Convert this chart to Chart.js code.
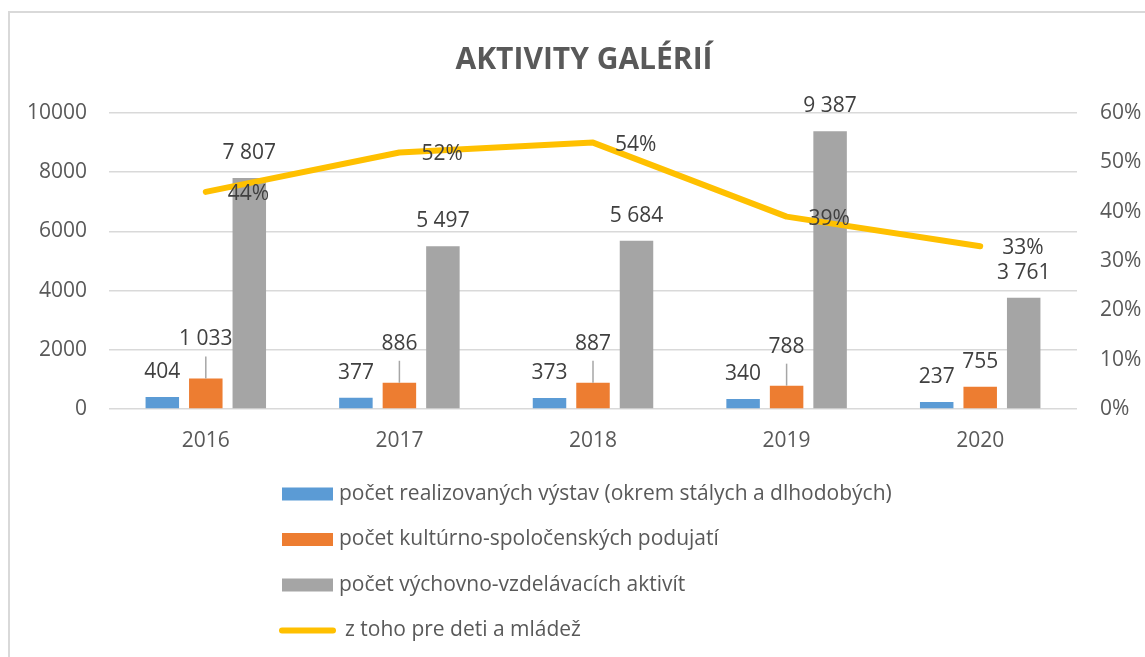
<!DOCTYPE html>
<html>
<head>
<meta charset="utf-8">
<title>Aktivity galérií</title>
<script src="https://cdn.jsdelivr.net/npm/chart.js@4"></script>
<style>
  body { margin: 0; background: #fff; }
  #wrap { position: relative; width: 1145px; height: 657px; }
</style>
</head>
<body>
<div id="wrap"><canvas id="gChart"></canvas></div>
<script>
// data
const years = ["2016", "2017", "2018", "2019", "2020"];
const vystavy = [404, 377, 373, 340, 237];
const podujatia = [1033, 886, 887, 788, 755];
const vzdelavacie = [7807, 5497, 5684, 9387, 3761];
const detiPodiel = [0.44, 0.52, 0.54, 0.39, 0.33];
const leftTicks = [0, 2000, 4000, 6000, 8000, 10000];
const rightTicks = [0, 0.1, 0.2, 0.3, 0.4, 0.5, 0.6];

const chartTitle = "AKTIVITY GALÉRIÍ";
const seriesNames = [
  "počet realizovaných výstav (okrem stálych a dlhodobých)",
  "počet kultúrno-spoločenských podujatí",
  "počet výchovno-vzdelávacích aktivít",
  "z toho pre deti a mládež"
];

const FONT = "'Open Sans', 'Liberation Sans', sans-serif";
const TEXT = "#595959";

function fmtNum(v) {
  return String(v).replace(/\B(?=(\d{3})+(?!\d))/g, " ");
}
function fmtPct(v) {
  return Math.round(v * 100) + "%";
}

// labels on bars / line, like excel data labels
const labelsPlugin = {
  id: "valueLabels",
  afterDatasetsDraw(chart) {
    const ctx = chart.ctx;
    ctx.save();
    ctx.font = "21px " + FONT;
    ctx.fillStyle = "#404040";
    ctx.textBaseline = "middle";
    chart.data.datasets.forEach(function(ds, di) {
      const meta = chart.getDatasetMeta(di);
      meta.data.forEach(function(el, i) {
        const v = ds.data[i];
        if (ds.type === "line") {
          ctx.textAlign = "left";
          ctx.fillText(fmtPct(v), el.x + 22, el.y + 2);
          return;
        }
        ctx.textAlign = "center";
        let off = 25;
        if (di === 1 && i < 4) {
          // moved label with leader line
          off = 39;
          ctx.strokeStyle = "#a6a6a6";
          ctx.lineWidth = 1.5;
          ctx.beginPath();
          ctx.moveTo(el.x, el.y);
          ctx.lineTo(el.x, el.y - off + 17);
          ctx.stroke();
        }
        ctx.fillText(fmtNum(v), el.x, el.y - off);
      });
    });
    ctx.restore();
  }
};

// title + vertical legend under the chart
const textPlugin = {
  id: "titleLegend",
  afterDraw(chart) {
    const ctx = chart.ctx;
    ctx.save();
    ctx.fillStyle = TEXT;
    ctx.textBaseline = "middle";
    ctx.textAlign = "center";
    ctx.font = "bold 30px " + FONT;
    ctx.fillText(chartTitle, 584, 60);

    ctx.font = "21px " + FONT;
    ctx.textAlign = "left";
    chart.data.datasets.forEach(function(ds, i) {
      const cy = 494 + i * 45.5;
      if (ds.type === "line") {
        ctx.strokeStyle = ds.borderColor;
        ctx.lineWidth = 6;
        ctx.lineCap = "round";
        ctx.beginPath();
        ctx.moveTo(282, cy);
        ctx.lineTo(333, cy);
        ctx.stroke();
        ctx.fillStyle = TEXT;
        ctx.fillText(ds.label, 345, cy);
      } else {
        ctx.fillStyle = ds.backgroundColor;
        ctx.fillRect(282, cy - 6.5, 51, 13);
        ctx.fillStyle = TEXT;
        ctx.fillText(ds.label, 339, cy);
      }
    });
    ctx.restore();
  }
};

// outer frame of the chart object (only top and left visible)
const framePlugin = {
  id: "frame",
  beforeDraw(chart) {
    const ctx = chart.ctx;
    ctx.save();
    ctx.strokeStyle = "#d9d9d9";
    ctx.lineWidth = 2;
    ctx.beginPath();
    ctx.moveTo(9, 657);
    ctx.lineTo(9, 12);
    ctx.lineTo(1145, 12);
    ctx.stroke();
    ctx.restore();
  }
};

const CHART = document.getElementById("gChart");
let galChart = new Chart(CHART, {
  data: {
    labels: years,
    datasets: [
      { type: "bar", label: seriesNames[0], data: vystavy, backgroundColor: "#5B9BD5", yAxisID: "y", order: 1 },
      { type: "bar", label: seriesNames[1], data: podujatia, backgroundColor: "#ED7D31", yAxisID: "y", order: 1 },
      { type: "bar", label: seriesNames[2], data: vzdelavacie, backgroundColor: "#A5A5A5", yAxisID: "y", order: 1 },
      { type: "line", label: seriesNames[3], data: detiPodiel, borderColor: "#FFC000", backgroundColor: "#FFC000",
        borderWidth: 6, borderCapStyle: "round", borderJoinStyle: "round", pointRadius: 0, tension: 0,
        yAxisID: "y1", order: 0 }
    ]
  },
  options: {
    responsive: true,
    maintainAspectRatio: false,
    animation: false,
    devicePixelRatio: 1,
    categoryPercentage: 0.674,
    barPercentage: 0.77,
    layout: { padding: { left: 0, right: 0, top: 113, bottom: 188 } },
    plugins: {
      legend: { display: false },
      tooltip: { enabled: false },
      title: { display: false }
    },
    scales: {
      x: {
        grid: { display: false, drawTicks: false },
        border: { display: false },
        ticks: { color: TEXT, font: { family: FONT, size: 21 }, padding: 19 },
        afterFit: function(s) { s.height = 60; }
      },
      y: {
        position: "left",
        min: 0, max: 10000,
        afterBuildTicks: function(s) { s.ticks = leftTicks.map(function(v) { return { value: v }; }); },
        grid: { color: "#d9d9d9", lineWidth: 1.5, drawTicks: false },
        border: { display: false },
        ticks: { color: TEXT, font: { family: FONT, size: 21 }, padding: 22, callback: function(v) { return String(v); } },
        afterFit: function(s) { s.width = 109; }
      },
      y1: {
        position: "right",
        min: 0, max: 0.6,
        afterBuildTicks: function(s) { s.ticks = rightTicks.map(function(v) { return { value: v }; }); },
        grid: { display: false, drawTicks: false },
        border: { display: false },
        ticks: { color: TEXT, font: { family: FONT, size: 21 }, padding: 23, callback: function(v) { return fmtPct(v); } },
        afterFit: function(s) { s.width = 68; }
      }
    }
  },
  plugins: [framePlugin, labelsPlugin, textPlugin]
});
</script>
</body>
</html>
